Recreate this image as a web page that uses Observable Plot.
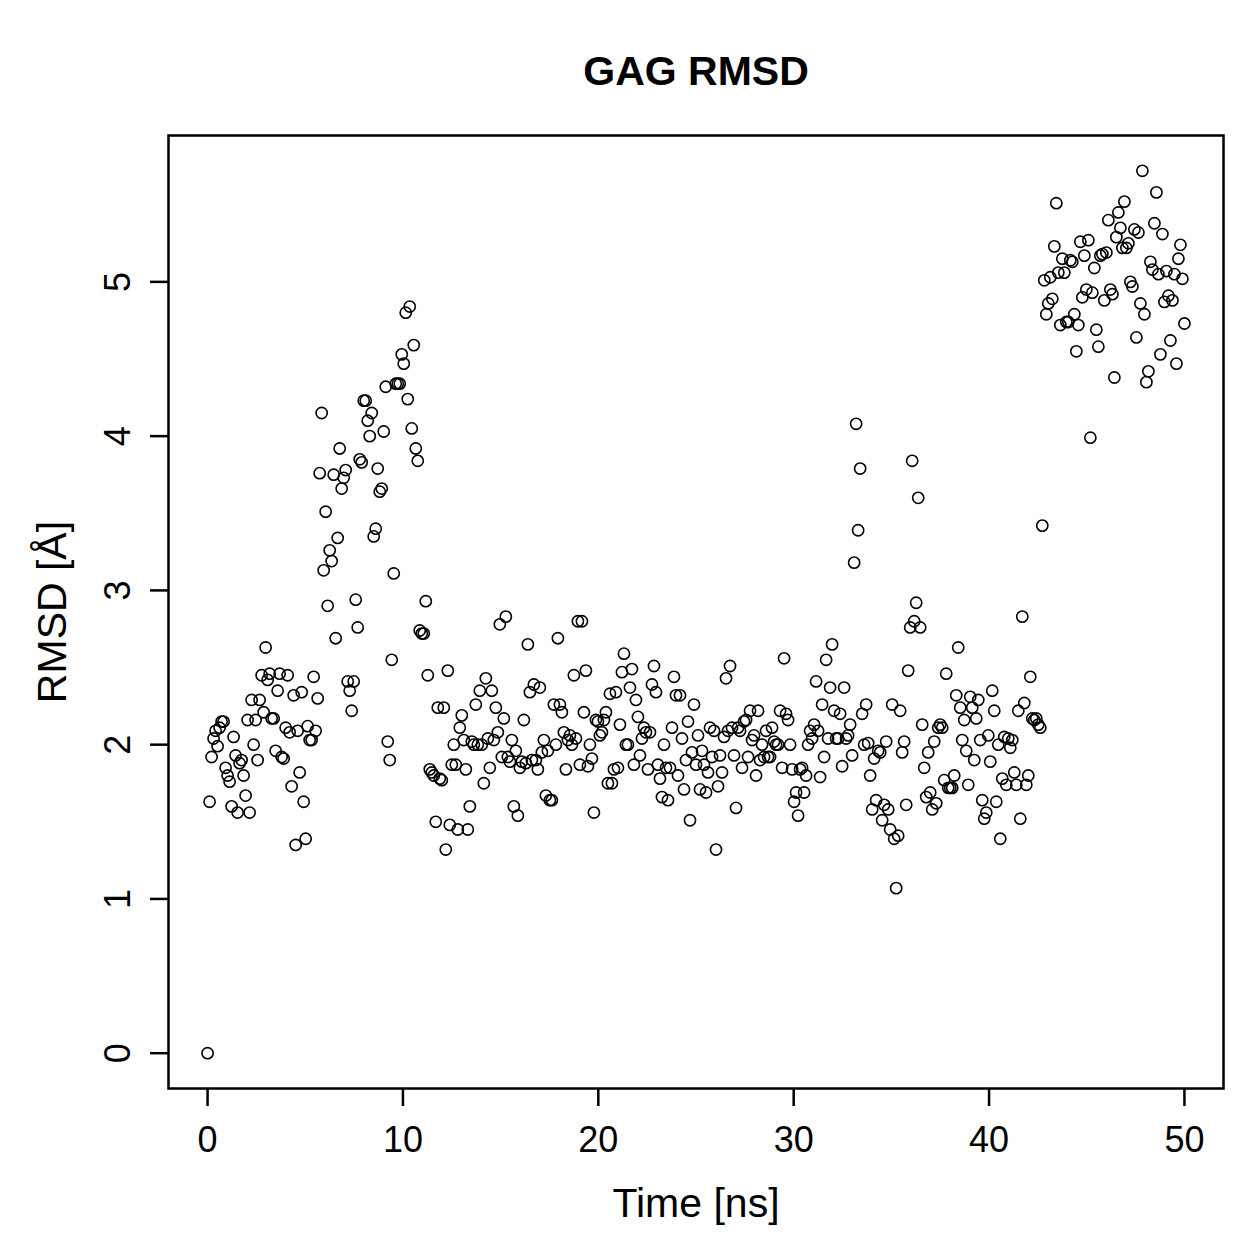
<!DOCTYPE html>
<html>
<head>
<meta charset="utf-8">
<script src="https://cdn.jsdelivr.net/npm/d3@7"></script>
<script src="https://cdn.jsdelivr.net/npm/@observablehq/plot@0.6"></script>
<style>
  html, body { margin: 0; padding: 0; background: #ffffff; }
  #chart svg { display: block; font-family: "Liberation Sans", Arial, Helvetica, sans-serif; }
</style>
</head>
<body>
<div id="chart"></div>
<script>
// Chart text
const title = "GAG RMSD";
const xLabel = "Time [ns]";
const yLabel = "RMSD [Å]";
const xTicks = [0, 10, 20, 30, 40, 50];
const yTicks = [0, 1, 2, 3, 4, 5];
const timeStart = 0;
const timeEnd = 50;

// RMSD values (Å), one per trajectory frame, in time order
const rmsd = [
  0.00,1.63,1.92,2.04,2.09,1.99,2.11,2.15,2.15,1.85,1.80,1.76,1.60,2.05,1.93,1.56,1.88,1.90,1.80,1.67,
  2.16,1.56,2.29,2.00,2.16,1.90,2.29,2.45,2.21,2.63,2.42,2.46,2.17,2.17,1.96,2.35,2.46,1.92,1.91,2.11,
  2.45,2.08,1.73,2.32,1.35,2.09,1.82,2.34,1.63,1.39,2.12,2.03,2.03,2.44,2.09,2.30,
  3.76,4.15,3.13,3.51,2.90,3.26,3.19,3.75,2.69,3.34,3.92,3.66,3.73,3.78,2.41,2.35,2.22,2.41,2.94,2.76,
  3.85,3.83,4.23,4.23,4.10,4.00,4.15,3.35,3.40,3.79,3.64,3.66,4.03,4.32,2.02,1.90,2.55,3.11,4.34,4.34,
  4.34,4.53,4.47,4.80,4.24,4.84,4.05,4.59,3.92,3.84,2.74,2.72,2.72,2.93,2.45,1.84,1.82,1.80,1.50,2.24,
  1.78,1.77,2.24,1.32,2.48,1.48,1.87,2.00,1.87,1.45,2.11,2.19,2.03,1.84,1.45,1.60,2.02,2.00,2.26,2.00,
  2.35,2.00,1.75,2.43,2.04,1.85,2.35,2.03,2.24,2.08,2.78,1.92,2.17,2.83,1.92,1.89,2.03,1.60,1.96,1.54,
  1.85,1.89,2.16,1.88,2.65,2.34,1.90,2.39,1.90,1.84,2.37,1.95,2.03,1.67,1.96,1.64,1.64,2.26,2.00,2.69,
  2.26,2.21,2.08,1.84,2.03,2.06,2.00,2.45,2.04,2.80,1.87,2.80,2.21,2.48,1.86,2.00,1.91,1.56,2.16,2.15,
  2.06,2.08,2.16,2.21,1.75,2.33,1.75,1.84,2.34,1.85,2.13,2.47,2.59,2.00,2.00,2.37,2.49,1.87,2.29,2.18,
  1.93,2.04,2.11,2.08,1.84,2.08,2.39,2.51,2.34,1.87,1.78,1.66,2.00,1.85,1.64,1.85,2.11,2.44,2.32,1.80,
  2.32,2.04,1.71,1.90,2.15,1.51,1.95,2.26,1.87,2.06,1.71,1.96,1.87,1.69,1.82,2.11,1.92,2.09,1.32,1.73,
  1.93,1.82,2.05,2.43,2.09,2.51,2.11,1.93,1.59,2.11,2.09,1.85,2.15,2.16,1.92,2.22,2.03,2.06,1.80,2.22,
  1.90,2.00,1.92,2.09,1.92,1.92,2.11,2.02,2.00,2.00,2.22,1.85,2.56,2.20,2.16,2.00,1.84,1.63,1.69,1.54,
  1.84,1.85,1.69,1.80,2.00,2.09,2.04,2.13,2.41,2.09,1.79,2.26,1.92,2.55,2.04,2.37,2.65,2.22,2.04,2.04,
  2.20,1.86,2.37,2.04,2.06,2.13,1.93,3.18,4.08,3.39,3.79,2.20,2.00,2.26,2.01,1.80,1.58,1.91,1.64,1.96,
  1.95,1.51,1.61,2.02,1.58,1.45,2.26,1.39,1.07,1.41,2.22,1.95,2.02,1.61,2.48,2.76,3.84,2.80,2.92,3.60,
  2.76,2.13,1.85,1.66,1.95,1.69,1.58,2.02,1.62,2.11,2.13,2.11,1.77,2.46,1.72,1.72,1.72,1.80,2.32,2.63,
  2.24,2.03,2.16,1.96,1.74,2.31,2.24,1.90,2.17,2.29,2.03,1.64,1.52,1.56,2.06,1.89,2.35,2.22,1.63,2.00,
  1.39,1.78,2.05,1.74,2.04,1.98,2.03,1.82,1.74,2.22,1.52,2.83,2.27,1.74,1.80,2.44,2.17,2.16,2.17,2.13,
  2.11,3.42,5.01,4.79,4.86,5.03,4.89,5.23,5.51,5.06,4.72,5.15,5.06,4.74,4.74,5.14,5.13,4.79,4.55,4.72,
  5.26,4.90,5.17,4.95,5.27,3.99,4.93,5.09,4.69,4.58,5.17,5.18,4.88,5.19,5.40,4.95,4.92,4.38,5.29,5.45,
  5.35,5.22,5.52,5.22,5.25,5.00,4.97,5.34,4.64,5.32,4.86,5.72,4.79,4.35,4.42,5.13,5.08,5.38,5.58,5.05,
  4.53,5.31,4.87,5.07,4.91,4.62,4.88,5.05,4.47,5.15,5.24,5.02,4.73
];

const n = rmsd.length;
const data = rmsd.map((v, i) => ({time: timeStart + (timeEnd - timeStart) * i / (n - 1), rmsd: v}));

const W = 1259, H = 1259;
const chart = Plot.plot({
  width: W,
  height: H,
  marginLeft: 168,
  marginRight: 36,
  marginTop: 135,
  marginBottom: 171,
  style: {background: "#ffffff", color: "#000000", fontFamily: "Liberation Sans, Arial, sans-serif"},
  x: {domain: [-2, 52]},
  y: {domain: [-0.2288, 5.9488]},
  marks: [
    Plot.axisX({ticks: xTicks, tickSize: 18, tickPadding: 20, tickFormat: d => String(d), fontSize: 36, strokeWidth: 2.5, label: null}),
    Plot.axisY({ticks: yTicks, tickSize: 18, tickPadding: 21, tickRotate: -90, tickFormat: d => String(d), fontSize: 36, strokeWidth: 2.5, label: null}),
    Plot.frame({stroke: "#000000", strokeWidth: 2.5}),
    Plot.dot(data, {x: "time", y: "rmsd", r: 5.6, stroke: "#000000", strokeWidth: 1.6, fill: "none"}),
    Plot.text([title], {text: d => d, frameAnchor: "top", dy: -80, fontSize: 41, fontWeight: "bold", fill: "#000000"}),
    Plot.text([xLabel], {text: d => d, frameAnchor: "bottom", dy: 128, fontSize: 41, fill: "#000000"}),
    Plot.text([yLabel], {text: d => d, frameAnchor: "left", textAnchor: "middle", lineAnchor: "middle", dx: -116, rotate: -90, fontSize: 41, fill: "#000000"})
  ]
});
document.getElementById("chart").appendChild(chart);
</script>
</body>
</html>
